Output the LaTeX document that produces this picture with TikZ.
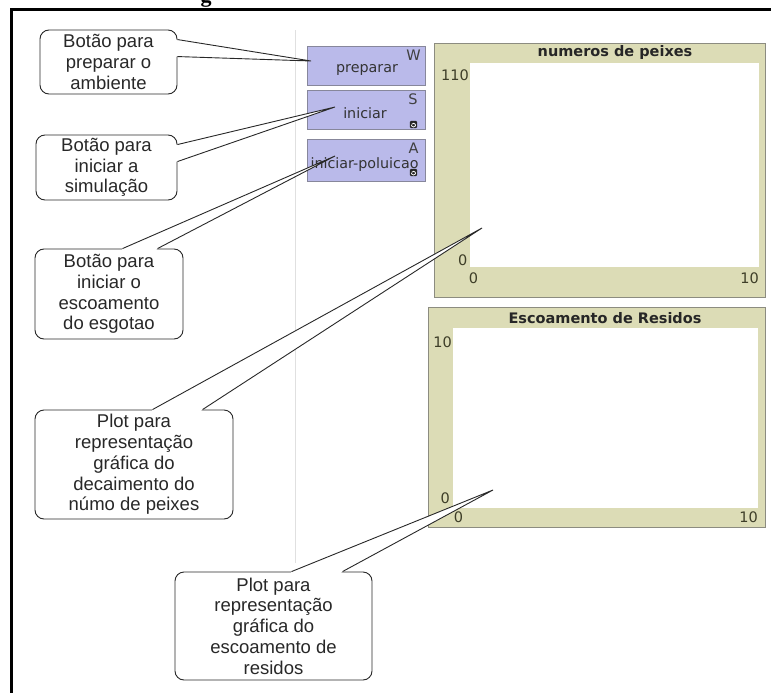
\documentclass[tikz,border=0pt]{standalone}
\usepackage{fontspec}
\setmainfont{Liberation Sans}
\newfontfamily\nlfont{DejaVu Sans}
\newfontfamily\capfont{Liberation Serif}
\usetikzlibrary{calc}

\definecolor{btnfill}{RGB}{186,186,234}
\definecolor{btnedge}{RGB}{135,135,155}
\definecolor{plotfill}{RGB}{220,220,182}
\definecolor{plotedge}{RGB}{140,140,128}
\definecolor{plotink}{RGB}{62,62,40}
\definecolor{sepgray}{RGB}{224,224,224}
\definecolor{calloutink}{RGB}{40,40,40}

% tail of a callout: #1 callout node, #2/#3 base points on its border, #4 tip
\newcommand{\calltail}[4]{%
  \fill[white] (#2) -- (#4) -- (#3) -- ($(#3)!2pt!(#1.center)$) -- ($(#2)!2pt!(#1.center)$) -- cycle;
  \draw[calloutline] (#2) -- (#4) -- (#3);}

\begin{document}
\begin{tikzpicture}[x=1pt,y=-1pt,
  calloutline/.style={draw=calloutink,line width=0.9pt},
  callout/.style={calloutline,fill=white,rounded corners=9pt,inner sep=0pt,
    align=center,text=calloutink,font=\fontsize{18.5}{20.8}\selectfont},
  nlbutton/.style={draw=btnedge,fill=btnfill,line width=0.8pt,inner sep=0pt},
  btnlabel/.style={font=\nlfont\fontsize{14.3}{14.3}\selectfont,text=black!80,inner sep=0pt},
  keylabel/.style={font=\nlfont\fontsize{14.5}{14.5}\selectfont,text=black!75,inner sep=0pt},
  plotframe/.style={draw=plotedge,fill=plotfill,line width=0.9pt,inner sep=0pt},
  plotarea/.style={fill=white,draw=none,inner sep=0pt},
  plottitle/.style={font=\nlfont\bfseries\fontsize{14.5}{14.5}\selectfont,text=black!85,inner sep=0pt},
  axislabel/.style={font=\nlfont\fontsize{14.5}{14.5}\selectfont,text=plotink,inner sep=0pt},
  forever/.pic={
    \fill[black!85,rounded corners=1.2pt] (-3.7,-3.7) rectangle (3.7,3.7);
    \draw[white,line width=0.75pt] (-2.1,0.4) arc[start angle=180,end angle=0,radius=2.1];
    \draw[white,line width=0.75pt] (2.1,0.9) arc[start angle=0,end angle=-150,radius=2.1];
  }]
\useasboundingbox (0,0) rectangle (771,693);

% cut-off caption above the frame
\node[anchor=base,font=\capfont\bfseries\fontsize{22}{22}\selectfont,inner sep=0pt] (capfrag) at (206,3) {g};

% outer frame (top and left edges)
\draw[line width=2.6pt,line cap=rect] (11.5,9.5) -- (771,9.5);
\draw[line width=2.8pt] (11.5,9.5) -- (11.5,693);

% separator of the interface panel
\draw[sepgray,line width=1pt] (295,30) -- (295,563);

% ---- buttons ----
\node[nlbutton,minimum width=118pt,minimum height=39pt] (bprep) at (366,65.5) {};
\node[btnlabel] (bprepL) at (367,70) {preparar};
\node[keylabel] (bprepK) at (413.5,55) {W};

\node[nlbutton,minimum width=118pt,minimum height=39pt] (binic) at (366,109.5) {};
\node[btnlabel] (binicL) at (365,113) {iniciar};
\node[keylabel] (binicK) at (413,99.5) {S};
\pic at (413.5,124.5) {forever};

\node[nlbutton,minimum width=118pt,minimum height=42pt] (bpol) at (366,160.5) {};
\node[btnlabel] (bpolL) at (364.5,165) {iniciar-poluicao};
\pic at (413.5,172.5) {forever};
\node[keylabel] (bpolK) at (413.5,148.5) {A};

% ---- plot: numeros de peixes ----
\node[plotframe,minimum width=331pt,minimum height=254pt] (plotA) at (599.5,170) {};
\node[plotarea,minimum width=289pt,minimum height=204pt] (plotAin) at (614.5,165) {};
\node[plottitle] (plotAT) at (615,53) {numeros de peixes};
\node[axislabel,anchor=east] (plotAymax) at (469,75) {110};
\node[axislabel,anchor=east] (plotAymin) at (467.5,260) {0};
\node[axislabel] (plotAxmin) at (473.5,278) {0};
\node[axislabel,anchor=east] (plotAxmax) at (759,278) {10};

% ---- plot: Escoamento de Residos ----
\node[plotframe,minimum width=337pt,minimum height=220pt] (plotB) at (596.5,417) {};
\node[plotarea,minimum width=305pt,minimum height=180pt] (plotBin) at (605.5,418) {};
\node[plottitle] (plotBT) at (605,318) {Escoamento de Residos};
\node[axislabel,anchor=east] (plotBymax) at (452,342) {10};
\node[axislabel,anchor=east] (plotBymin) at (450,498) {0};
\node[axislabel] (plotBxmin) at (458.5,517) {0};
\node[axislabel,anchor=east] (plotBxmax) at (758,517) {10};

% ---- callouts ----
\coordinate (tipPrep) at (311,61);
\coordinate (tipInic) at (335,107);
\coordinate (tipPol) at (335,156);
\coordinate (tipPlotA) at (482,228);
\coordinate (tipPlotB) at (493,490);

\node[callout,minimum width=137pt,minimum height=64pt] (c1) at (108.5,62)
  {Botão para\\preparar o\\ambiente};
\calltail{c1}{$(c1.north east)+(0,10)$}{$(c1.north east)+(0,27)$}{tipPrep}

\node[callout,minimum width=141pt,minimum height=65pt] (c2) at (106.5,167.5)
  {Botão para\\iniciar a\\simulação};
\calltail{c2}{$(c2.north east)+(0,10)$}{$(c2.north east)+(0,27)$}{tipInic}

\node[callout,minimum width=148pt,minimum height=90pt] (c3) at (109,294)
  {Botão para\\iniciar o\\escoamento\\do esgotao};
\calltail{c3}{$(c3.north west)+(88,0)$}{$(c3.north west)+(123,0)$}{tipPol}

\node[callout,minimum width=198pt,minimum height=109pt] (c4) at (134,464.5)
  {Plot para\\representação\\gráfica do\\decaimento do\\númo de peixes};
\calltail{c4}{$(c4.north west)+(118,0)$}{$(c4.north west)+(168,0)$}{tipPlotA}

\node[callout,minimum width=197pt,minimum height=108pt] (c5) at (273.5,626)
  {Plot para\\representação\\gráfica do\\escoamento de\\residos};
\calltail{c5}{$(c5.north west)+(117,0)$}{$(c5.north west)+(168,0)$}{tipPlotB}
\end{tikzpicture}
\end{document}
